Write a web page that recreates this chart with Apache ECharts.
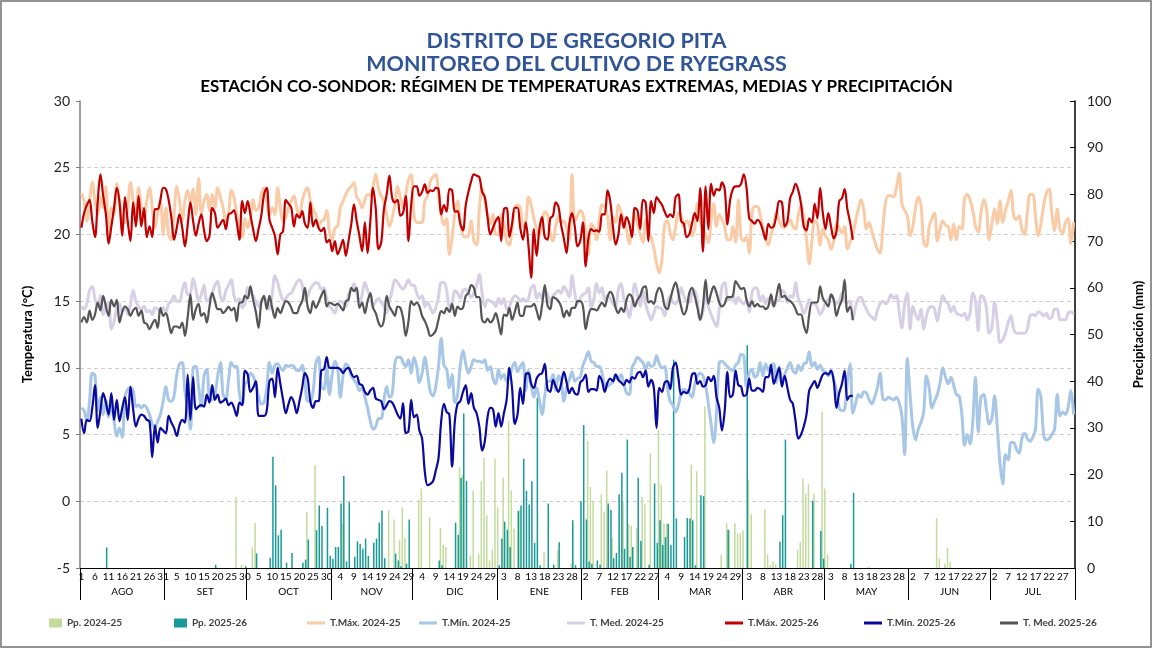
<!DOCTYPE html>
<html><head><meta charset="utf-8">
<script src="https://cdn.jsdelivr.net/npm/echarts@6/dist/echarts.min.js"></script>
<style>html,body{margin:0;padding:0;background:#fff}#c{width:1153px;height:652px}</style>
</head><body><div id="c"></div>
<script>
// ---- month structure (season Aug -> Jul) ----
const MONTHS = ['AGO','SET','OCT','NOV','DIC','ENE','FEB','MAR','ABR','MAY','JUN','JUL'];
const MONTH_DAYS = [31,30,31,30,31,31,28,31,30,31,30,31];

// ---- Temperatures 2025-26 (Aug 1 -> May 11) ----
const TMAX_2526 = [
 20.5,21.6,22.2,22.6,21.0,19.8,22.5,24.5,22.9,21.5,19.3,20.6,22.0,23.5,22.4,19.9,22.8,21.0,19.5,22.4,20.6,22.9,20.6,22.0,19.8,20.6,19.8,21.9,21.9,22.6,23.5,
 23.4,22.6,21.3,19.6,20.5,21.5,20.5,19.1,20.7,22.4,21.0,19.9,20.8,21.5,20.3,19.5,19.9,22.0,21.6,20.5,20.8,21.1,20.4,21.5,21.6,21.8,20.9,19.6,22.5,21.6,
 22.5,21.5,20.4,19.5,20.4,21.4,23.0,23.5,21.1,20.5,19.9,18.5,20.0,20.25,22.6,22.3,22.0,20.6,21.5,21.25,21.75,20.8,20.5,22.4,20.6,21.1,20.5,20.25,20.5,19.4,19.6,
 18.75,19.5,18.5,19.0,19.6,18.4,19.5,20.75,22.25,21.0,19.9,18.75,20.9,18.6,21.0,23.5,21.9,18.9,19.4,21.9,23.0,24.4,22.75,22.4,22.6,21.4,21.6,22.9,19.5,22.25,
 23.6,23.6,22.9,23.2,23.75,23.1,23.3,23.25,23.5,23.4,21.5,22.2,21.7,23.4,23.3,21.7,21.75,20.8,20.3,22.2,23.2,24.0,24.5,24.4,24.3,23.2,22.8,21.3,20.0,20.5,21.0,
 21.3,19.5,21.9,22.0,19.8,20.8,22.0,22.0,20.5,19.6,20.9,19.2,16.75,20.4,18.4,20.4,21.3,19.8,19.6,21.2,21.4,22.4,22.1,20.7,19.7,18.6,20.8,21.6,20.6,19.1,19.5,
 20.9,17.6,19.7,20.4,20.25,20.3,20.2,21.5,21.5,23.3,22.5,20.6,19.25,20.0,21.5,20.5,21.3,20.8,19.8,22.0,21.8,20.4,22.6,22.4,19.5,22.5,21.6,22.8,
 22.5,22.2,21.7,21.3,21.5,21.3,22.8,23.0,21.0,20.8,19.8,20.0,20.8,21.6,21.0,23.5,18.7,23.6,20.4,23.8,22.9,23.4,23.3,23.9,23.4,20.75,22.6,23.4,23.6,23.6,23.8,
 24.5,23.5,21.2,21.0,20.8,21.1,20.9,20.3,19.6,20.8,20.5,20.6,21.5,22.5,22.4,20.6,21.0,22.7,23.2,23.8,23.3,22.3,20.6,20.3,21.2,20.9,22.3,21.2,23.5,21.6,
 20.4,21.6,20.6,19.7,20.2,22.5,22.7,23.4,21.9,20.9,19.6
];
const TMED_2526 = [
 13.4,13.8,13.4,14.3,13.6,14.0,14.9,14.3,15.4,14.6,13.9,15.1,14.6,15.1,13.4,14.2,14.6,14.4,13.9,14.3,14.5,13.9,14.3,13.4,13.3,12.9,13.3,13.6,13.0,14.5,13.9,
 14.1,13.4,12.6,13.1,13.1,13.0,13.4,12.4,13.8,15.5,13.6,14.4,14.8,13.9,14.1,13.4,14.6,15.6,15.0,14.4,14.4,14.1,14.3,14.6,14.3,14.5,13.5,14.9,14.9,15.4,
 15.2,16.1,15.1,14.2,13.0,14.9,15.4,14.4,15.4,14.5,13.75,14.5,14.1,14.6,15.0,14.9,14.5,14.1,14.1,14.6,15.0,16.0,14.6,14.1,15.0,14.5,14.9,15.4,15.8,14.6,14.9,
 14.8,14.7,14.8,14.6,14.3,15.0,15.1,16.0,15.75,16.0,14.5,14.9,14.1,15.0,15.6,14.5,14.1,13.4,13.1,13.6,15.4,14.6,14.25,13.9,14.6,14.5,13.75,12.4,13.5,15.0,
 14.7,14.9,14.6,13.9,13.5,13.0,12.4,12.5,12.8,13.6,14.25,14.1,14.5,14.2,14.8,13.9,14.6,14.4,14.5,15.4,15.6,16.2,16.0,15.3,15.3,13.6,13.4,13.7,13.4,13.6,14.1,
 13.4,12.5,14.0,13.9,14.5,13.6,14.2,14.9,13.9,13.9,14.6,14.6,14.6,14.8,14.3,13.6,14.7,16.2,14.7,14.4,15.3,15.2,15.0,14.6,13.8,14.3,13.9,14.5,14.5,15.0,15.0,
 14.6,12.9,13.9,14.4,14.4,14.3,14.6,14.9,14.6,15.3,15.7,15.4,14.5,14.1,14.5,14.2,15.1,15.5,15.3,14.6,15.1,15.4,16.0,16.1,14.9,15.0,14.8,15.6,
 16.0,15.6,14.6,14.4,15.1,15.9,16.4,15.6,14.6,14.0,14.4,15.6,16.0,15.4,14.5,13.6,14.6,16.6,14.8,15.6,16.1,15.6,14.9,14.6,14.8,15.3,15.3,15.4,16.5,16.2,15.9,
 16.0,15.1,14.6,15.0,14.6,14.8,14.6,14.6,14.4,14.6,15.5,14.6,15.4,16.3,15.3,15.4,15.1,15.0,14.8,14.4,14.0,14.0,13.2,12.6,14.0,14.9,14.9,14.9,16.1,15.2,
 14.9,14.6,15.5,15.1,13.9,14.6,15.1,16.6,14.2,14.6,13.6
];
const TMIN_2526 = [
 6.2,5.1,6.1,6.0,7.0,8.7,5.5,6.8,8.1,7.4,6.5,8.1,6.1,7.6,6.0,7.0,7.8,6.1,8.6,6.9,5.6,6.2,6.5,6.4,6.1,6.0,3.3,5.7,4.4,5.5,5.3,
 5.1,6.4,5.9,5.5,4.9,5.7,6.1,5.9,9.5,6.1,9.3,6.9,7.1,7.2,7.1,8.0,7.4,8.7,7.6,8.0,7.4,7.5,7.7,7.2,7.4,7.0,6.4,7.4,7.2,9.8,
 9.5,8.2,8.5,9.0,6.4,6.4,6.4,6.8,9.0,9.2,7.8,10.0,8.8,7.6,6.6,7.3,7.8,7.4,6.6,7.5,8.5,9.6,9.2,7.5,7.0,7.5,7.5,9.8,9.9,10.8,10.0,
 10.0,10.0,10.0,9.9,9.6,9.9,10.0,9.6,9.3,9.4,8.8,8.7,8.2,8.0,8.3,8.5,7.7,7.6,7.5,6.9,7.2,7.5,7.4,7.0,6.5,6.2,7.35,5.1,5.25,7.6,
 6.3,6.5,5.3,4.7,2.2,1.2,1.3,1.5,2.3,3.2,6.0,7.3,6.7,6.5,2.6,6.0,7.3,7.5,8.2,8.7,7.3,8.1,7.0,6.6,5.6,3.8,4.5,6.3,7.0,6.9,5.6,
 6.6,5.6,6.6,7.6,10.0,8.5,5.8,6.5,8.5,7.3,9.5,9.6,8.8,8.5,9.2,9.5,9.6,10.3,8.4,8.2,9.1,8.6,8.2,8.8,9.7,8.9,8.1,8.5,8.1,8.0,8.9,
 9.1,9.5,8.2,8.4,8.4,8.3,9.4,9.0,8.2,8.9,9.2,9.0,9.5,9.1,8.9,8.7,9.1,8.9,9.3,9.2,9.6,9.7,9.3,9.8,8.6,9.1,8.5,5.5,
 8.5,8.2,8.9,9.0,8.4,10.0,10.4,9.3,8.0,8.2,8.1,8.4,9.5,9.6,8.8,9.0,8.6,8.7,9.3,9.0,9.4,7.8,7.0,5.3,6.8,9.7,7.8,8.0,9.8,8.7,8.6,
 7.9,8.0,9.2,8.3,8.3,8.5,8.4,8.2,9.3,9.3,10.2,8.8,9.4,10.0,8.6,9.4,8.5,7.6,7.3,6.0,4.7,5.0,5.6,6.5,8.3,8.7,9.0,8.5,9.0,9.5,
 9.6,9.5,9.8,9.0,7.0,8.1,8.8,9.8,7.6,7.9,7.9
];

// ---- Temperatures 2024-25 (full season) ----
const TMAX_2425 = [
 23.1,22.5,21.0,22.5,23.9,22.5,21.5,22.8,22.0,23.6,19.6,22.0,21.5,23.8,22.4,21.0,20.9,22.0,23.9,22.5,21.5,23.5,22.0,21.0,22.5,23.5,22.0,20.5,21.6,22.5,20.0,
 22.0,20.0,19.6,21.5,23.6,22.5,21.0,22.5,23.3,22.3,23.4,21.5,24.2,21.6,22.5,23.0,21.8,23.0,22.0,23.5,22.8,22.0,21.0,21.5,23.3,22.8,21.5,20.1,19.8,21.2,
 20.5,21.2,22.6,21.8,22.0,23.0,23.5,22.5,21.4,22.0,21.5,23.5,22.0,21.0,21.3,22.0,22.5,22.9,22.0,21.3,22.5,23.2,23.5,22.5,21.9,21.5,20.6,21.0,21.1,21.8,20.2,
 19.6,20.5,20.6,22.0,22.5,23.0,23.4,23.6,23.9,22.8,22.5,22.0,22.6,23.0,22.9,23.6,24.5,23.4,22.9,22.5,21.5,20.6,21.2,22.2,23.6,22.8,22.0,23.0,24.1,24.5,
 21.5,20.9,20.9,20.9,22.5,22.9,24.0,24.3,24.5,23.0,21.5,20.7,21.2,18.5,19.8,21.5,22.5,21.0,19.9,19.8,19.9,21.0,19.5,19.2,21.9,23.5,22.6,21.5,20.8,21.5,20.0,
 20.0,21.5,20.8,19.5,19.2,20.5,22.0,22.2,22.0,20.6,20.9,22.8,22.2,21.2,20.4,19.9,21.0,21.7,21.5,20.1,19.5,20.6,21.4,20.9,21.0,20.5,19.6,24.5,21.0,21.4,21.8,
 21.5,20.2,18.5,20.8,20.5,19.6,21.2,22.2,22.0,21.4,19.6,21.3,20.9,22.2,21.7,21.1,20.3,19.3,20.5,21.5,20.8,20.0,19.4,21.1,20.4,19.8,19.0,17.8,
 17.1,18.2,20.8,21.0,20.1,19.6,20.6,21.6,21.4,20.6,21.0,20.8,19.9,20.5,22.3,21.1,20.4,20.0,19.4,21.0,22.3,20.6,21.5,21.1,20.6,19.6,19.6,20.6,19.4,22.6,19.8,
 19.5,19.8,18.6,21.6,22.1,22.1,21.5,20.5,19.8,19.2,20.0,20.7,21.7,21.0,20.6,20.5,20.8,21.1,20.6,20.4,21.5,22.2,21.3,19.7,17.8,19.5,21.0,20.8,19.2,20.4,
 19.9,19.6,18.9,19.5,20.8,20.5,20.1,20.6,18.9,19.4,20.0,21.0,21.9,22.6,21.9,20.4,20.9,20.2,19.5,18.9,18.6,20.5,22.4,22.9,22.9,22.8,23.5,24.6,22.3,21.8,21.4,
 19.9,20.6,22.0,22.8,22.2,19.4,19.1,20.6,21.2,21.6,19.5,20.4,21.0,20.7,20.6,19.6,20.8,19.6,20.6,20.4,22.7,23.0,22.6,21.8,20.6,20.2,21.6,22.6,22.0,19.6,
 20.8,21.9,20.8,22.5,20.9,21.8,22.5,23.3,21.4,21.1,21.4,20.4,20.0,21.6,23.0,23.0,21.4,19.9,20.8,22.2,23.1,23.4,21.6,20.3,21.9,20.4,20.1,20.9,21.2,19.3,20.9
];
const TMED_2425 = [
 14.6,14.4,14.8,15.8,16.1,15.2,14.6,15.4,14.0,14.6,14.9,12.9,13.5,14.5,14.8,14.2,14.6,14.0,14.8,15.8,15.0,14.6,14.4,14.6,14.2,14.3,14.0,14.5,14.4,14.2,14.5,
 14.2,14.8,15.0,15.4,15.0,15.0,15.8,16.4,15.5,15.6,16.7,15.9,15.0,15.5,16.2,15.0,15.2,15.6,16.2,16.5,15.4,15.0,15.8,16.2,16.6,15.4,15.0,15.2,14.5,14.8,
 16.0,15.6,15.4,15.0,14.6,15.0,15.2,14.9,14.4,15.5,16.9,16.4,15.6,15.1,15.2,15.5,15.6,16.0,16.4,16.6,16.2,15.1,15.4,15.9,16.2,16.4,16.3,15.9,16.0,15.2,14.6,
 14.4,14.1,14.8,15.0,14.9,14.6,15.5,15.8,16.3,15.6,14.9,15.5,16.4,15.8,15.4,14.6,15.0,15.2,14.9,14.6,14.1,15.0,15.8,16.6,16.4,16.1,15.9,16.2,16.6,16.2,
 16.2,15.6,15.2,15.4,14.6,14.9,14.5,14.1,14.5,15.3,16.4,16.4,15.8,14.6,14.9,15.8,15.6,15.2,15.8,15.9,15.6,15.3,15.6,16.2,17.0,15.6,14.6,15.1,15.0,14.9,14.6,
 15.2,14.8,15.2,14.4,14.6,15.1,15.4,15.3,15.0,15.2,15.0,15.2,16.0,16.2,15.2,15.6,15.2,15.8,15.5,14.9,15.4,15.6,15.8,15.6,16.1,15.8,15.3,16.9,15.6,14.8,15.2,
 15.5,15.6,16.0,14.5,15.1,16.3,15.6,16.0,15.1,15.4,15.2,14.8,14.6,15.9,16.3,15.2,14.6,13.8,14.9,16.3,15.5,14.6,15.8,14.8,14.1,13.6,14.1,14.6,
 14.5,14.4,13.9,14.9,15.4,14.9,14.8,15.2,16.0,15.4,15.0,14.9,15.6,15.8,14.9,13.6,14.2,15.6,14.6,14.0,13.5,13.1,14.4,16.1,16.4,15.2,15.1,15.4,14.8,15.3,15.0,
 14.8,15.1,14.2,15.6,16.0,15.9,15.1,15.4,14.8,15.2,15.0,14.6,15.0,15.1,15.8,15.6,14.9,15.4,15.3,16.4,15.2,14.7,14.1,14.5,15.1,14.8,14.8,14.5,14.0,14.3,
 14.9,15.1,15.4,15.1,14.8,15.0,15.6,15.0,14.9,15.0,13.6,14.6,15.2,15.3,14.8,14.4,14.0,13.8,13.6,14.3,14.8,15.0,14.8,15.0,15.5,15.2,15.4,14.2,13.0,14.8,15.6,
 12.9,14.6,14.0,13.6,14.4,12.9,13.9,14.5,14.6,14.4,13.5,14.6,15.4,15.0,14.8,14.2,14.6,14.1,14.0,13.9,14.1,13.6,14.1,15.6,15.0,12.8,15.4,15.3,14.5,12.6,
 13.0,14.9,13.5,11.9,12.1,12.6,13.4,13.9,12.9,12.6,12.6,12.6,12.6,12.9,13.9,14.0,13.9,14.2,14.1,13.9,14.1,13.7,13.8,14.4,14.4,13.6,13.6,13.6,14.1,14.2,14.0
];
const TMIN_2425 = [
 7.0,6.8,6.0,7.5,9.6,9.4,6.8,7.8,6.5,7.6,6.3,7.2,6.0,4.9,5.5,4.8,7.8,8.4,8.5,8.3,7.1,7.2,7.0,7.2,7.0,6.5,5.8,5.5,6.0,6.5,7.5,
 8.6,7.6,7.5,7.9,9.5,10.3,10.4,8.2,7.0,5.4,10.0,10.1,8.6,7.1,9.4,9.9,7.7,7.6,8.0,9.4,10.4,8.0,7.7,9.1,10.4,10.1,10.1,8.0,7.3,8.8,
 9.0,9.6,9.4,8.8,7.9,7.3,7.4,8.5,10.4,9.6,10.2,10.3,10.0,9.8,10.2,10.1,10.2,10.1,9.8,9.8,10.2,9.0,7.5,7.5,8.2,10.3,10.8,8.6,8.4,10.1,8.0,
 9.5,10.5,10.0,7.8,9.4,10.3,10.1,9.4,9.1,8.8,8.3,8.5,7.8,7.0,6.0,5.4,5.6,6.2,6.2,7.6,8.6,7.8,8.0,10.3,10.8,10.8,10.4,10.1,10.6,9.6,
 10.8,10.1,8.9,9.6,10.8,9.6,8.2,7.9,8.6,10.1,12.2,10.2,9.9,8.5,9.5,7.4,8.0,10.2,11.3,10.3,9.6,10.1,10.6,10.5,10.5,10.4,10.6,9.8,10.1,9.2,8.8,
 9.9,9.2,9.5,9.0,9.3,10.0,10.4,9.7,10.1,10.4,8.3,9.8,8.7,7.8,8.5,7.6,6.5,7.9,9.0,9.0,9.5,8.3,9.4,9.0,7.5,8.5,9.1,9.7,9.0,9.2,9.3,
 10.2,10.7,11.2,10.5,10.4,10.1,10.1,9.6,8.7,8.6,8.8,8.9,9.5,9.1,9.5,8.8,8.1,8.0,10.0,10.4,10.8,10.6,10.4,9.9,10.4,10.1,10.2,10.9,
 10.3,10.0,10.1,8.5,7.5,7.2,6.7,7.2,8.1,8.4,8.3,8.1,7.8,8.7,9.4,9.6,9.4,8.7,7.3,5.8,4.4,6.7,10.4,10.5,10.3,10.1,9.9,9.8,10.2,10.4,11.0,
 10.9,8.6,9.6,9.9,9.3,9.5,10.4,9.4,10.3,9.8,10.2,10.3,8.9,10.1,8.9,9.5,10.0,10.4,9.8,9.6,10.2,9.8,10.3,10.4,11.2,10.1,10.4,9.9,10.2,9.8,
 9.7,9.4,9.8,9.1,8.3,7.0,6.8,6.9,9.0,10.3,6.6,7.3,8.0,7.8,8.2,8.1,7.6,7.3,7.8,8.5,9.6,7.7,7.6,7.8,7.7,7.6,7.8,7.4,6.4,3.5,10.7,
 8.0,5.6,4.6,5.4,5.9,6.7,9.4,8.5,7.0,7.5,8.0,8.9,10.0,9.3,8.8,9.3,8.7,8.0,7.9,6.5,4.2,5.0,4.3,6.0,9.3,5.2,7.8,8.0,6.9,5.8,
 6.2,7.9,5.5,2.8,1.3,3.5,3.1,4.4,4.4,3.9,3.6,4.7,5.1,4.7,4.5,4.8,5.4,8.4,7.8,5.0,4.6,4.7,5.0,5.4,8.0,6.4,6.7,6.5,7.1,8.3,6.5
];

// ---- Precipitation (day of season, 0 = Aug 1) ----
const PP_2425_DAY = [57,59,63,64,83,86,96,113,115,117,118,119,124,125,128,132,133,134,139,140,143,144,146,147,148,149,150,151,152,153,155,157,158,159,161,170,175,180,
 186,187,188,191,192,193,195,199,201,202,204,206,207,209,212,213,214,215,224,226,229,235,237,238,240,241,242,243,
 245,246,251,252,253,254,255,263,264,265,266,267,269,272,273,274,289,314,315,317,318,319];
const PP_2425_MM = [15.2,0.7,4.4,9.7,12,22,9.6,12.4,10.4,5.9,13,6.5,14.6,17,10.8,8.6,4.9,4.5,21.6,20,2.7,16.6,3.1,18.6,23.6,11.3,1.6,3.9,23.4,13,19.3,31.5,16.6,8.4,12.4,3.4,3.8,0.9,
 27.2,17.4,14.4,15.8,12.1,20.8,6.5,14.3,9.4,9.1,8.6,15.2,13.6,24.5,29.5,17.9,9.6,9.5,22.1,20.7,34.6,2.9,9.6,8.1,9.6,7.4,7.5,8.1,
 18.9,11.5,12.6,2.9,0.6,1.4,0.9,3.8,5.5,19.1,15.9,17.9,15.9,33.4,17,2.9,0.3,10.7,2.1,0.9,4.3,1.3];
const PP_2526_DAY = [9,49,60,64,69,70,71,72,73,75,77,81,82,83,86,87,88,90,91,92,93,94,95,96,97,98,100,101,102,103,104,105,107,108,109,110,111,115,116,117,119,120,
 131,132,137,138,139,140,141,153,154,155,156,157,160,161,162,163,164,165,166,167,168,171,173,175,180,181,183,
 184,185,186,187,189,190,193,194,195,196,197,198,199,200,201,202,204,205,208,210,211,212,213,214,215,216,217,218,221,222,223,224,225,227,228,237,
 244,256,257,258,268,271,272,282,283];
const PP_2526_MM = [4.4,0.7,0.4,3.1,2.2,23.8,17.7,7.0,8.2,1.1,3.2,1.1,1.8,6.1,8.1,13.4,9.0,12.9,2.6,2.0,4.5,4.5,13.8,19.7,1.4,14.1,2.4,5.7,5.2,4.1,6.3,2.6,5.4,6.3,9.7,12.3,2.1,3.1,1.6,0.4,0.9,10.4,
 1.6,0.6,9.7,7.1,19.3,33.1,18.6,0.6,6.3,9.9,8.2,4.5,12.2,13.4,23.4,16.5,13.6,18.6,5.4,36.5,0.6,13.8,0.7,5.5,10.2,0.6,14.3,
 30.6,10.4,1.4,0.9,1.6,0.7,13.8,12.4,2.1,3.2,15.8,20.4,4.1,27.5,2.4,4.5,19.3,5.8,0.7,18.1,5.4,10.2,4.9,6.6,9.5,4.9,44.6,10.6,6.6,10.7,10.6,10.2,0.6,15.6,15.4,8.2,
 47.7,5.6,11.3,27.5,14.4,7.9,2.0,0.9,16.1];

// ---- build categories / helpers ----
const CATS = [];
const MONTH_START = [];
let acc = 0;
MONTH_DAYS.forEach((n, i) => { MONTH_START.push(acc); for (let d = 1; d <= n; d++) CATS.push(d + '-' + MONTHS[i]); acc += n; });
MONTH_START.push(acc);
const MONTH_MID = MONTH_DAYS.map((n, i) => MONTH_START[i] + n / 2);
const pairs = (days, vals) => days.map((d, i) => [d, vals[i]]);

const FONT = 'Lato';
const NAMES = ['Pp. 2024-25','Pp. 2025-26','T.Máx. 2024-25','T.Mín. 2024-25','T. Med. 2024-25','T.Máx. 2025-26','T.Mín. 2025-26','T. Med. 2025-26'];
const COLORS = ['#C3DB9C','#179A98','#F9CBA6','#A8C7E6','#D7CFE5','#C00000','#0A0A9E','#555555'];
const LEG_LEFT = [44,169,302,414,562,720,859,995];

function lineSeries(i, data, width, z) {
  return { name: NAMES[i], type: 'line', data: data, yAxisIndex: 0, symbol: 'none', smooth: 0.35,
    lineStyle: { color: COLORS[i], width: width }, itemStyle: { color: COLORS[i] }, z: z, animation: false };
}

const legends = NAMES.map((n, i) => ({
  data: [n], left: LEG_LEFT[i], top: 613, itemGap: 0,
  itemWidth: i < 2 ? 13 : 18, itemHeight: i < 2 ? 9 : 3,
  icon: 'rect',
  textStyle: { fontFamily: FONT, fontSize: 10, fontWeight: 'bold', color: '#404040' },
  selectedMode: false
}));

const chart = echarts.init(document.getElementById('c'), null, { renderer: 'canvas' });
chart.setOption({
  backgroundColor: '#ffffff',
  animation: false,
  title: [
    { text: 'DISTRITO DE GREGORIO PITA', left: 'center', top: 25,
      textStyle: { fontFamily: FONT, fontSize: 21.5, fontWeight: 'bold', color: '#2F5597' } },
    { text: 'MONITOREO DEL CULTIVO DE RYEGRASS', left: 'center', top: 48,
      textStyle: { fontFamily: FONT, fontSize: 21.5, fontWeight: 'bold', color: '#2F5597' } },
    { text: 'ESTACIÓN CO-SONDOR: RÉGIMEN DE TEMPERATURAS EXTREMAS, MEDIAS Y PRECIPITACIÓN', left: 'center', top: 73,
      textStyle: { fontFamily: FONT, fontSize: 17, fontWeight: 'bold', color: '#000' } }
  ],
  legend: legends,
  grid: { left: 80, right: 66, top: 101, bottom: 84, containLabel: false },
  xAxis: [
    { type: 'category', data: CATS, boundaryGap: true,
      axisLine: { onZero: false, lineStyle: { color: '#000', width: 1 } }, axisTick: { show: false },
      axisLabel: { interval: 4, formatter: v => v.split('-')[0], fontFamily: FONT, fontSize: 10, color: '#000', margin: 4 },
      splitLine: { show: false } },
    { type: 'value', min: 0, max: 365, position: 'bottom',
      axisLine: { show: false, onZero: false },
      axisTick: { show: true, customValues: MONTH_START, length: 32, inside: false, lineStyle: { color: '#000', width: 1 } },
      axisLabel: { customValues: MONTH_MID, formatter: v => MONTHS[MONTH_MID.indexOf(v)], margin: 19, fontFamily: FONT, fontSize: 10, color: '#000' },
      splitLine: { show: false } }
  ],
  yAxis: [
    { type: 'value', min: -5, max: 30, interval: 5, position: 'left',
      name: 'Temperatura (°C)', nameLocation: 'middle', nameGap: 46, nameRotate: 90,
      nameTextStyle: { fontFamily: FONT, fontSize: 13, fontWeight: 'bold', color: '#000' },
      axisLine: { show: true, lineStyle: { color: '#7f7f7f', width: 1.5 } },
      axisTick: { show: true, length: 4, lineStyle: { color: '#7f7f7f' } },
      axisLabel: { fontFamily: FONT, fontSize: 14, color: '#222', margin: 10 },
      splitLine: { show: true, showMaxLine: false, showMinLine: false, lineStyle: { color: '#d0d0d0', type: [4, 3], width: 1 } } },
    { type: 'value', min: 0, max: 100, interval: 10, position: 'right',
      name: 'Precipitación (mm)', nameLocation: 'middle', nameGap: 57, nameRotate: 90,
      nameTextStyle: { fontFamily: FONT, fontSize: 13, fontWeight: 'bold', color: '#000' },
      axisLine: { show: true, lineStyle: { color: '#000', width: 1.5 } },
      axisTick: { show: true, inside: true, length: 5, lineStyle: { color: '#000' } },
      axisLabel: { fontFamily: FONT, fontSize: 14, color: '#222', margin: 12 },
      splitLine: { show: false } }
  ],
  series: [
    { name: NAMES[0], type: 'bar', yAxisIndex: 1, data: pairs(PP_2425_DAY, PP_2425_MM), barWidth: 1.5, barGap: '0%',
      itemStyle: { color: COLORS[0] }, z: 1, animation: false },
    { name: NAMES[1], type: 'bar', yAxisIndex: 1, data: pairs(PP_2526_DAY, PP_2526_MM), barWidth: 1.5, barGap: '0%',
      itemStyle: { color: COLORS[1] }, z: 1, animation: false },
    lineSeries(2, TMAX_2425, 3, 2),
    lineSeries(3, TMIN_2425, 3, 2),
    lineSeries(4, TMED_2425, 3, 2),
    lineSeries(5, TMAX_2526, 2.2, 3),
    lineSeries(6, TMIN_2526, 2.2, 3),
    lineSeries(7, TMED_2526, 2.2, 3)
  ],
  graphic: [
    { type: 'rect', shape: { x: 1, y: 1, width: 1150, height: 646 }, style: { fill: null, stroke: '#6f6f6f', lineWidth: 1.5 }, silent: true, z: -1 }
  ]
});
</script>
</body></html>
